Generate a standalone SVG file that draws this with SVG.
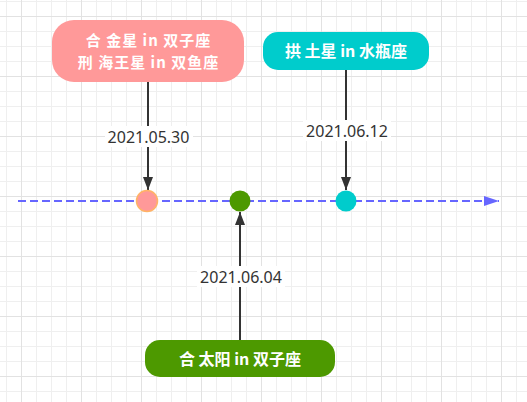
<svg xmlns="http://www.w3.org/2000/svg" width="527" height="402" viewBox="0 0 527 402">
<defs>
<pattern id="grid" x="6" y="1" width="60" height="60" patternUnits="userSpaceOnUse">
<path d="M0.5 0V60M30.5 0V60M45.5 0V60M0 0.5H60M0 30.5H60M0 45.5H60" stroke="#efefef" stroke-width="1" fill="none"/>
<path d="M15.5 0V60M0 15.5H60" stroke="#e2e2e2" stroke-width="1" fill="none"/>
</pattern>
<marker id="arr" viewBox="0 0 13 10" refX="13" refY="5" markerWidth="13" markerHeight="10" markerUnits="userSpaceOnUse" orient="auto">
<path d="M0 0L13 5L0 10Z" fill="#333333"/>
</marker>
<marker id="arrBlue" viewBox="0 0 15 10" refX="15" refY="5" markerWidth="15" markerHeight="10" markerUnits="userSpaceOnUse" orient="auto">
<path d="M0 0L15 5L0 10Z" fill="#6666FF"/>
</marker>
</defs>
<style>
.node text{font-family:"Noto Sans CJK SC","Noto Sans",sans-serif;font-weight:bold;font-size:16px;fill:#ffffff;text-anchor:middle}
.node text.small{font-size:15px;letter-spacing:1px}
.conn{stroke:#333333;stroke-width:2;fill:none;marker-end:url(#arr)}
.lbl{font-family:"Noto Sans","Liberation Sans",sans-serif;font-size:16px;fill:#333333;text-anchor:middle}
.lblbg{fill:#ffffff}
</style>
<rect width="527" height="402" fill="#ffffff"/>
<rect width="527" height="402" fill="url(#grid)"/>
<g id="connectors">
<path d="M18 201H499" stroke="#6666FF" stroke-width="2" stroke-dasharray="8 4" fill="none" marker-end="url(#arrBlue)"/>
<path class="conn" d="M148 82V190"/>
<path class="conn" d="M346 70V190"/>
<path class="conn" d="M240 340V212"/>
<rect class="lblbg" x="105" y="126" width="88" height="21"/>
<text class="lbl" x="148.5" y="142.5">2021.05.30</text>
<rect class="lblbg" x="303" y="120" width="88" height="21"/>
<text class="lbl" x="347" y="136.5">2021.06.12</text>
<rect class="lblbg" x="197" y="266" width="88" height="21"/>
<text class="lbl" x="241" y="282.5">2021.06.04</text>
</g>
<g id="dot1"><circle cx="147" cy="201" r="10.5" fill="#FF9999" stroke="#FFB366" stroke-width="1.5"/></g>
<g id="dot2"><circle cx="240" cy="201" r="10.5" fill="#4D9900"/></g>
<g id="dot3"><circle cx="346" cy="201" r="10.5" fill="#00CCCC"/></g>
<g id="node1" class="node">
<rect x="52" y="20" width="192" height="62" rx="22" fill="#FF9999"/>
<text class="small" x="148.5" y="46">合 金星 in 双子座</text>
<text class="small" x="148.5" y="68">刑 海王星 in 双鱼座</text>
</g>
<g id="node2" class="node">
<rect x="263" y="32" width="166" height="38" rx="15" fill="#00CCCC"/>
<text x="346" y="57">拱 土星 in 水瓶座</text>
</g>
<g id="node3" class="node">
<rect x="145" y="340" width="190" height="37" rx="15" fill="#4D9900"/>
<text x="240" y="365">合 太阳 in 双子座</text>
</g>
</svg>
